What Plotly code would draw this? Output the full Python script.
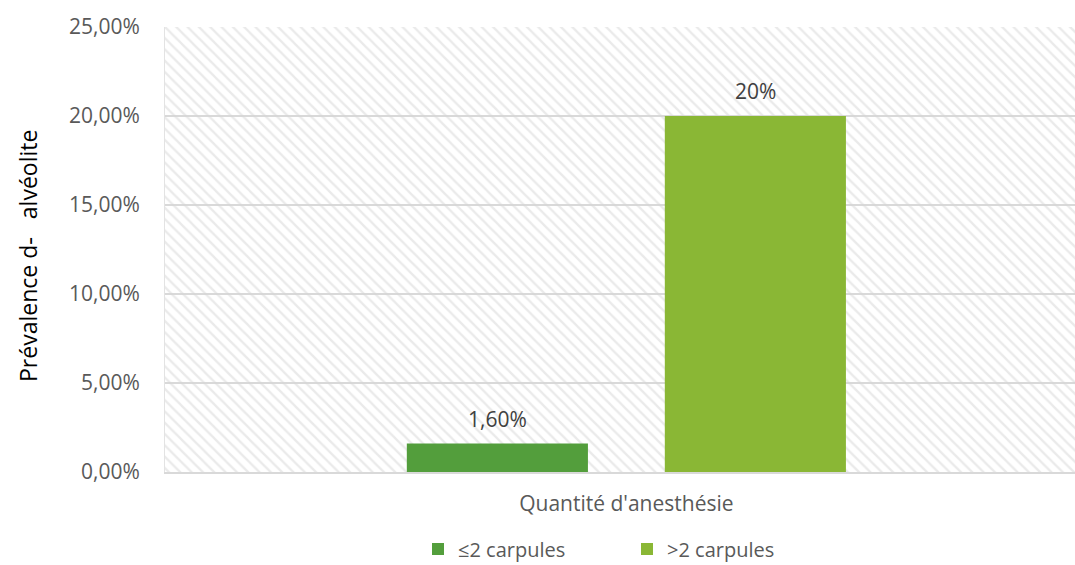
import plotly.graph_objects as go

# ---- data ----
category = ["Quantité d'anesthésie"]
series_names = ["≤2 carpules", ">2 carpules"]
series_values = [1.6, 20.0]          # percent
series_labels = ["1,60%", "20%"]
series_colors = ["#539E3C", "#8AB735"]
y_tickvals = [0, 5, 10, 15, 20, 25]
y_ticktext = ["0,00%", "5,00%", "10,00%", "15,00%", "20,00%", "25,00%"]
y_title = "Prévalence d‐" + "\u00a0" * 3 + "alvéolite"

Y_MAX = 25
FONT = "Open Sans"
BARGAP = 0.433
BARGROUPGAP = 0.298

fig = go.Figure()

# hatched plot-area background (decoration) on the base axes
fig.add_trace(go.Bar(
    x=[0.5], y=[Y_MAX], width=[1], xaxis="x", yaxis="y",
    marker=dict(color="rgba(0,0,0,0)", line=dict(width=0),
                pattern=dict(shape="\\", fgcolor="#d6d6d6", bgcolor="rgba(0,0,0,0)",
                             size=8, solidity=0.3)),
    showlegend=False, hoverinfo="skip",
))

legend_ids = ["legend", "legend2"]
for name, val, col, lg in zip(series_names, series_values, series_colors, legend_ids):
    fig.add_trace(go.Bar(
        name=name, x=category, y=[val], xaxis="x2", yaxis="y",
        marker=dict(color=col, line=dict(width=0)), legend=lg,
    ))

# data labels above the bars
n = len(series_values)
slot = (1 - BARGAP) / n
for i, (val, lab) in enumerate(zip(series_values, series_labels)):
    xpos = -(1 - BARGAP) / 2 + slot * (i + 0.5)
    fig.add_annotation(x=xpos, y=val, xref="x2", yref="y", text=lab,
                       showarrow=False, yanchor="bottom", yshift=9,
                       font=dict(family=FONT, size=21, color="#404040"))

fig.add_annotation(x=(28 - 165) / 910, y=(472 - 256) / 445, xref="paper", yref="paper",
                   text=y_title, textangle=-90, showarrow=False,
                   xanchor="center", yanchor="middle",
                   font=dict(family=FONT, size=23, color="#000000"))

legend_style = dict(orientation="h", xanchor="left", y=(472 - 549) / 445, yanchor="middle",
                    font=dict(family=FONT, size=20, color="#595959"),
                    itemwidth=30, bgcolor="rgba(0,0,0,0)")

fig.update_layout(
    width=1075, height=565,
    margin=dict(l=165, r=0, t=27, b=93, autoexpand=False),
    paper_bgcolor="white", plot_bgcolor="white",
    barmode="group", bargap=BARGAP, bargroupgap=BARGROUPGAP,
    font=dict(family=FONT, color="#595959"),
    xaxis=dict(range=[0, 1], visible=False, fixedrange=True),
    xaxis2=dict(overlaying="x", anchor="y", side="bottom", type="category",
                range=[-0.507, 0.493], showgrid=False, zeroline=False,
                showline=True, linecolor="#d9d9d9", linewidth=2,
                ticks="", ticklabelstandoff=12,
                tickfont=dict(family=FONT, size=21, color="#595959")),
    yaxis=dict(range=[0, Y_MAX], tickvals=y_tickvals, ticktext=y_ticktext,
               showgrid=True, gridcolor="#d9d9d9", gridwidth=1.5,
               zeroline=False, showline=True, linecolor="#e3e3e3", linewidth=1,
               ticks="", ticklabelstandoff=20,
               tickfont=dict(family=FONT, size=21, color="#595959")),
    legend=dict(x=(418 - 165) / 910, **legend_style),
    legend2=dict(x=(627 - 165) / 910, **legend_style),
    showlegend=True,
)

fig.write_html("out.html",
               config={"displayModeBar": False},
               post_script="document.body.style.margin='0';document.body.style.overflow='hidden';")
